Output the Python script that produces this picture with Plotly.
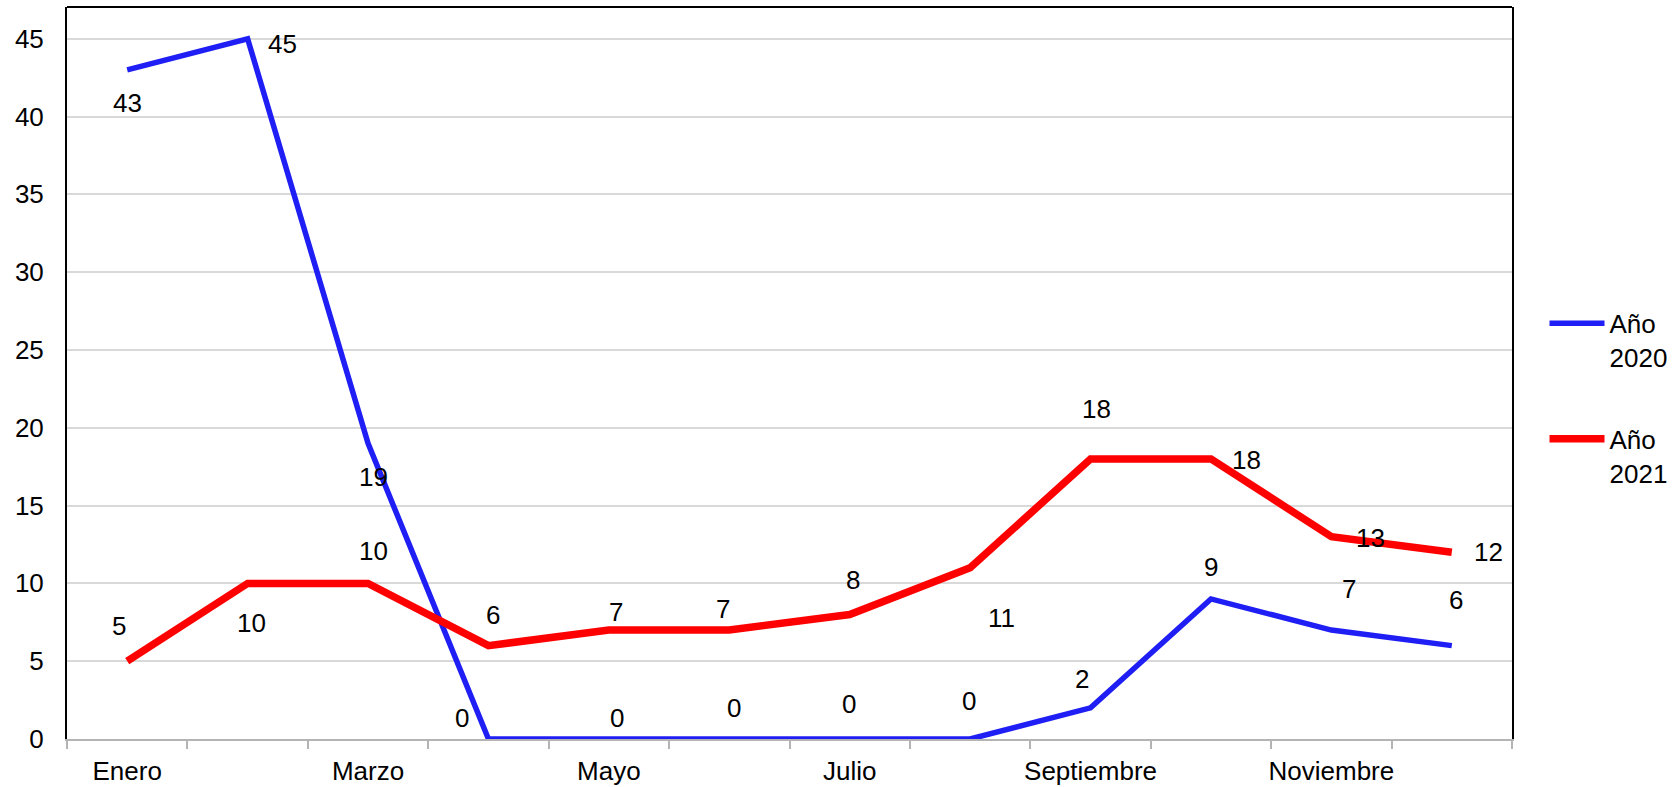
import plotly.graph_objects as go

meses = ["Enero", "Febrero", "Marzo", "Abril", "Mayo", "Junio", "Julio",
         "Agosto", "Septiembre", "Octubre", "Noviembre", "Diciembre"]
anio_2020 = [43, 45, 19, 0, 0, 0, 0, 0, 2, 9, 7, 6]
anio_2021 = [5, 10, 10, 6, 7, 7, 8, 11, 18, 18, 13, 12]

# desplazamiento (px) de cada etiqueta respecto a su punto
offsets_2020 = [(0, -33), (35, -5), (5, -34), (-26, 21), (8, 21), (5, 31),
                (-1, 35), (-1, 38), (-9, 29), (0, 32), (18, 41), (4, 46)]
offsets_2021 = [(-8, 35), (4, -40), (5, 32), (5, 31), (7, 18), (-6, 21),
                (3, 35), (31, -50), (6, 50), (36, -1), (39, -1), (37, 0)]

FONT = "Liberation Sans, Arial, sans-serif"
idx = list(range(len(meses)))

fig = go.Figure()
fig.add_trace(go.Scatter(x=idx, y=anio_2020, mode="lines", name="Año<br>2020",
                         line=dict(color="#1F1FF5", width=5.5), legendgroup="a"))
fig.add_trace(go.Scatter(x=idx, y=anio_2021, mode="lines", name="Año<br>2021",
                         line=dict(color="#FF0000", width=7.5), legendgroup="b"))

annotations = []
for valores, offs in [(anio_2020, offsets_2020), (anio_2021, offsets_2021)]:
    for i, v in enumerate(valores):
        annotations.append(dict(x=i, y=v, text=str(v), showarrow=False,
                                xshift=offs[i][0], yshift=offs[i][1],
                                font=dict(size=26, color="black", family=FONT)))

fig.update_layout(
    width=1679, height=787,
    margin=dict(l=67, r=167, t=7, b=48, autoexpand=False),
    plot_bgcolor="white", paper_bgcolor="white",
    font=dict(family=FONT, size=26, color="black"),
    annotations=annotations,
    showlegend=True,
    legend=dict(x=1.0225, y=0.6, xanchor="left", yanchor="top", valign="top",
                tracegroupgap=45, font=dict(size=26), itemwidth=55),
    xaxis=dict(
        range=[-0.5, 11.5], tickmode="array", tickvals=idx[::2], ticktext=meses[::2],
        showgrid=False, zeroline=False, showline=True, linecolor="#b4b4b4", linewidth=2,
        ticks="", ticklabelstandoff=8,
        minor=dict(ticks="outside", tick0=-0.5, dtick=1, ticklen=8,
                   tickcolor="#b4b4b4", tickwidth=2, showgrid=False),
    ),
    yaxis=dict(
        range=[0, 47.04], tickmode="linear", tick0=0, dtick=5,
        showgrid=True, gridcolor="#d9d9d9", gridwidth=2, zeroline=False,
        showline=True, linecolor="black", linewidth=2, mirror=True,
        ticks="", ticklabelstandoff=16,
    ),
    shapes=[dict(type="line", xref="paper", yref="paper", x0=0, x1=1, y0=1, y1=1,
                 line=dict(color="black", width=2))],
)

# el body trae 8px de margen por defecto
fig.write_html("out.html", config={"displayModeBar": False},
               post_script="document.body.style.margin='0';")
